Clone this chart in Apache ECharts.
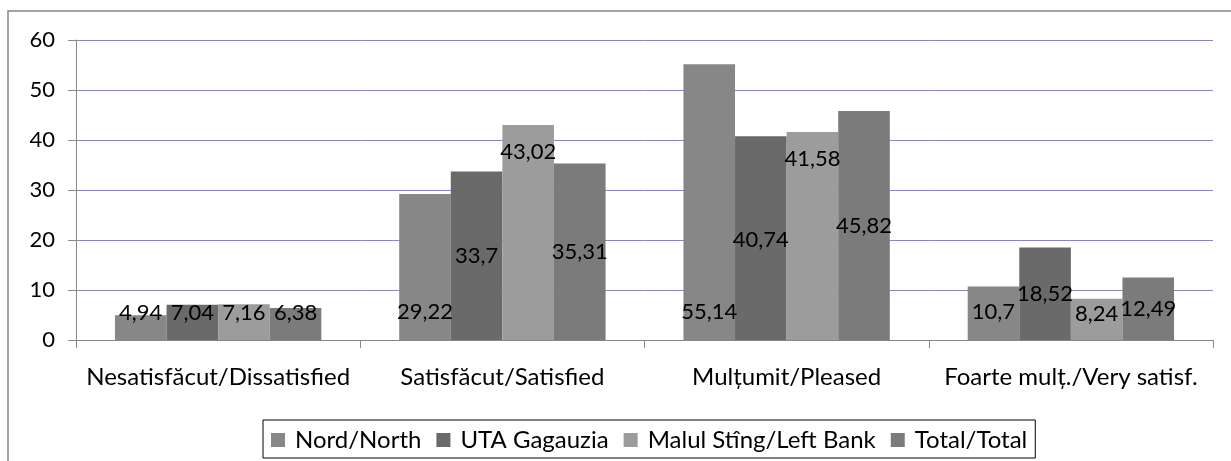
<!DOCTYPE html>
<html>
<head>
<meta charset="utf-8">
<script src="https://cdn.jsdelivr.net/npm/echarts@6/dist/echarts.min.js"></script>
<style>
  html, body { margin: 0; padding: 0; background: #fff; }
  #chart { width: 1231px; height: 461px; }
</style>
</head>
<body>
<div id="chart"></div>
<script>
// categories and series values
var categories = ['Nesatisfăcut/Dissatisfied', 'Satisfăcut/Satisfied', 'Mulțumit/Pleased', 'Foarte mulț./Very satisf.'];
var seriesNames = ['Nord/North', 'UTA Gagauzia', 'Malul Stîng/Left Bank', 'Total/Total'];
var nord   = [4.94, 29.22, 55.14, 10.7];
var uta    = [7.04, 33.7, 40.74, 18.52];
var malul  = [7.16, 43.02, 41.58, 8.24];
var total  = [6.38, 35.31, 45.82, 12.49];
var yTicks = [0, 10, 20, 30, 40, 50, 60];
// where each data label sits, in axis units above the base (labels were placed by hand)
var labelLevel = [
  [5.4, 5.6, 5.6, 5.6],
  [5.4, 16.8, 20.0, 9.2],
  [5.4, 37.6, 36.2, 5.2],
  [5.4, 17.6, 22.8, 6.2]
];

var colors = ['#878787', '#6a6a6a', '#9c9c9c', '#7b7b7b'];
var font = 'Lato, "Open Sans", sans-serif';
var allValues = [nord, uta, malul, total];

var myChart = echarts.init(document.getElementById('chart'));

function buildSeries(offsets) {
  return allValues.map(function (vals, s) {
    return {
      name: seriesNames[s],
      type: 'bar',
      barGap: '0%',
      barCategoryGap: '27.4%',
      itemStyle: { color: colors[s] },
      data: vals.map(function (v, i) {
        return {
          value: v,
          label: { offset: [0, offsets ? offsets[s][i] : 0] }
        };
      }),
      label: {
        show: true,
        position: 'insideBottom',
        distance: 0,
        verticalAlign: 'middle',
        color: '#000',
        fontFamily: font,
        fontSize: 22,
        formatter: function (p) { return String(p.value).replace('.', ','); }
      }
    };
  });
}

option = {
  animation: false,
  backgroundColor: '#fff',
  graphic: [{
    type: 'rect',
    shape: { x: 8, y: 11, width: 1300, height: 500 },
    style: { fill: null, stroke: '#878787', lineWidth: 1.5 },
    silent: true
  }],
  grid: { left: 76, right: 18, top: 40, bottom: 121 },
  legend: {
    data: seriesNames,
    left: 263,
    top: 420,
    padding: [8, 8, 6, 8],
    itemWidth: 14,
    itemHeight: 14,
    itemGap: 15,
    icon: 'rect',
    borderColor: '#000',
    borderWidth: 1,
    textStyle: { color: '#000', fontFamily: font, fontSize: 24, padding: [0, 0, 0, 5] }
  },
  xAxis: {
    type: 'category',
    data: categories,
    axisLine: { lineStyle: { color: '#878787', width: 1 } },
    axisTick: { show: true, length: 8, lineStyle: { color: '#878787' } },
    axisLabel: { color: '#000', fontFamily: font, fontSize: 24, margin: 25, interval: 0 }
  },
  yAxis: {
    type: 'value',
    min: yTicks[0],
    max: yTicks[yTicks.length - 1],
    interval: 10,
    axisLine: { show: true, lineStyle: { color: '#878787', width: 1 } },
    axisTick: { show: true, length: 8, lineStyle: { color: '#878787' } },
    axisLabel: { color: '#000', fontFamily: font, fontSize: 22, margin: 21 },
    splitLine: { lineStyle: { color: '#8886be', width: 1 } }
  },
  series: buildSeries(null)
};

myChart.setOption(option);

// turn label levels into pixel offsets through the value axis
var base = myChart.convertToPixel({ yAxisIndex: 0 }, 0);
var offsets = labelLevel.map(function (row) {
  return row.map(function (lv) {
    return myChart.convertToPixel({ yAxisIndex: 0 }, lv) - base;
  });
});
myChart.setOption({ series: buildSeries(offsets) });
</script>
</body>
</html>
